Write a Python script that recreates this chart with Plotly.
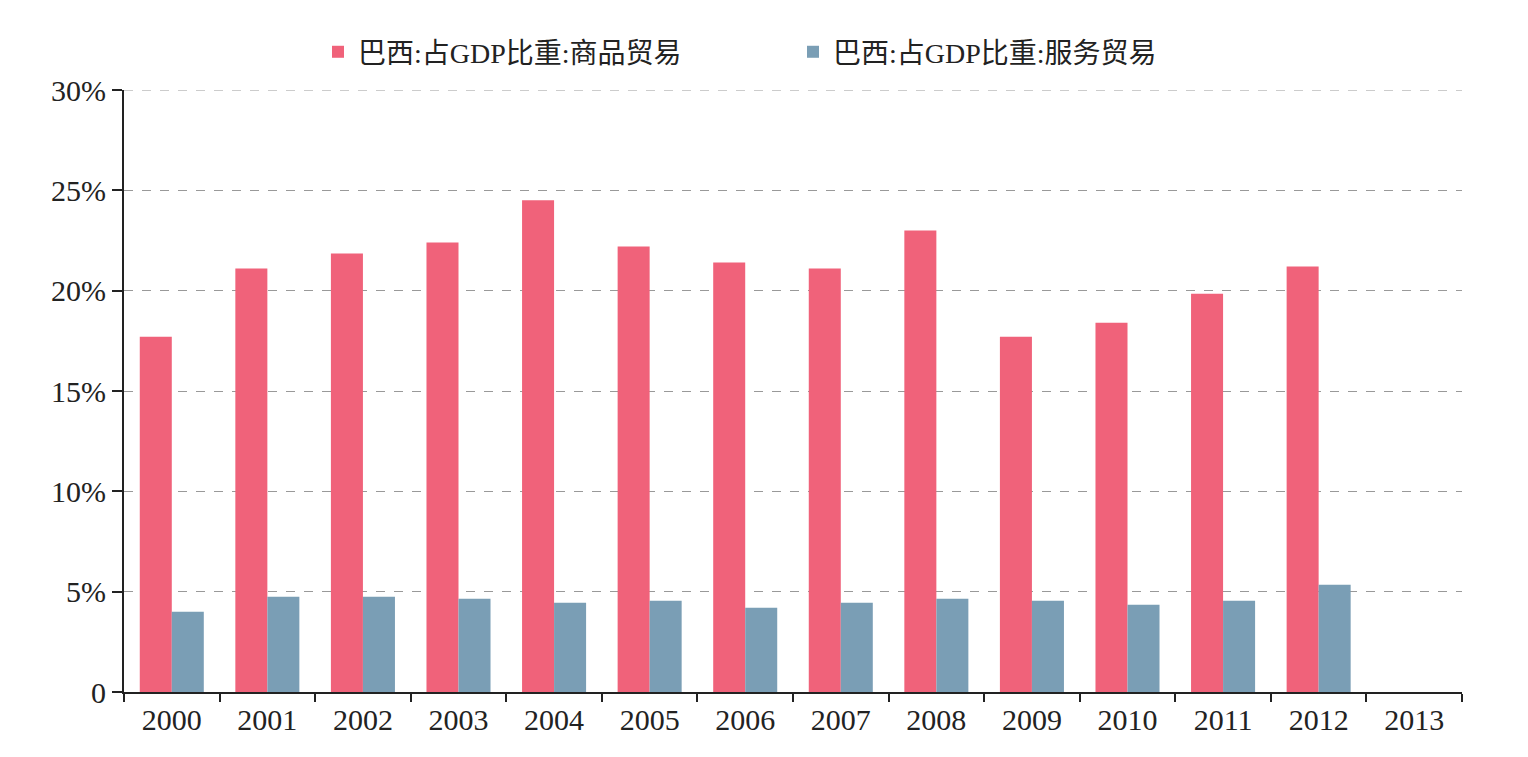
import plotly.graph_objects as go

years = ["2000","2001","2002","2003","2004","2005","2006","2007","2008","2009","2010","2011","2012","2013"]
goods = [17.7, 21.1, 21.85, 22.4, 24.5, 22.2, 21.4, 21.1, 23.0, 17.7, 18.4, 19.85, 21.2, None]
services = [4.0, 4.75, 4.75, 4.65, 4.45, 4.55, 4.2, 4.45, 4.65, 4.55, 4.35, 4.55, 5.35, None]
names = ["巴西:占GDP比重:商品贸易", "巴西:占GDP比重:服务贸易"]
tickvals = [0, 5, 10, 15, 20, 25, 30]
ticktext = ["0", "5%", "10%", "15%", "20%", "25%", "30%"]

font_family = "Liberation Serif, Noto Sans CJK SC, serif"

fig = go.Figure()
fig.add_trace(go.Bar(x=years, y=goods, name=names[0], marker=dict(color="#F0627A", line=dict(width=0))))
fig.add_trace(go.Bar(x=years, y=services, name=names[1], marker=dict(color="#7A9EB5", line=dict(width=0))))

# top gridline (at the last tick) which plotly omits at the axis edge
fig.add_shape(type="line", xref="paper", yref="y", x0=0, x1=1, y0=tickvals[-1], y1=tickvals[-1],
              line=dict(color="#999", width=1, dash="dash"), layer="below")

fig.update_layout(
    width=1528, height=757,
    margin=dict(l=124, r=66, t=90, b=65),
    paper_bgcolor="white", plot_bgcolor="white",
    barmode="group", bargap=0.33, bargroupgap=0,
    font=dict(family=font_family, size=30, color="#222"),
    legend=dict(orientation="h", x=0.5, xanchor="center", y=1.063, yanchor="middle",
                font=dict(size=28), entrywidth=430, entrywidthmode="pixels", itemwidth=30),
    xaxis=dict(type="category", showline=True, linecolor="#222", linewidth=2,
               ticks="outside", tickson="boundaries", ticklen=8, tickwidth=1.5, tickcolor="#222",
               showgrid=False, range=[-0.5, 13.5], tickfont=dict(size=30)),
    yaxis=dict(range=[0, 30], tickvals=tickvals, ticktext=ticktext, showline=True, linecolor="#222",
               linewidth=2, ticks="outside", ticklen=10, tickwidth=2, tickcolor="#222",
               showgrid=True, gridcolor="#999", griddash="dash", gridwidth=1, zeroline=False,
               tickfont=dict(size=30)),
)
fig.write_html("out.html")
